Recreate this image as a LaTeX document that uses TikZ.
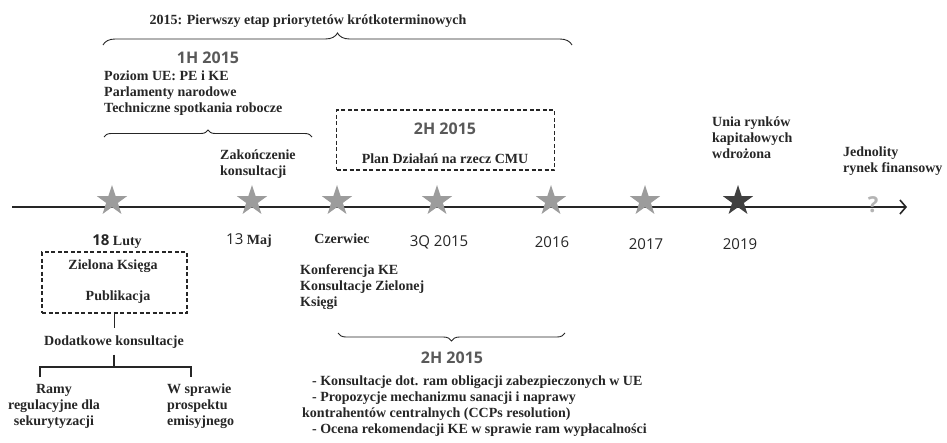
\documentclass[tikz,border=0pt]{standalone}
\usepackage{fontspec}
\setmainfont{Liberation Serif}
\newfontfamily\sansfont{Open Sans}
\usetikzlibrary{shapes.geometric,decorations.pathreplacing,arrows.meta}
\definecolor{inkgray}{HTML}{262626}
\definecolor{hdrgray}{HTML}{595959}
\definecolor{stargray}{HTML}{9C9C9C}
\definecolor{stardark}{HTML}{404040}
\definecolor{qgray}{HTML}{B4B4B4}
\tikzset{
  txt/.style={font=\bfseries\fontsize{14}{16}\selectfont, text=inkgray, inner sep=0pt, align=left},
  hdr/.style={font=\sansfont\bfseries\fontsize{16}{18}\selectfont, text=hdrgray, inner sep=0pt},
  yr/.style={font=\sansfont\fontsize{15}{18}\selectfont, text=inkgray, inner sep=0pt},
  evstar/.style={star, star points=5, star point ratio=2.6, minimum size=32pt, inner sep=0pt, fill=stargray, draw=none},
  dbox/.style={draw=inkgray, line width=1.3pt, dash pattern=on 4pt off 2.5pt, inner sep=0pt},
  brc/.style={draw=inkgray, line width=0.9pt, decorate, decoration={brace, amplitude=#1}},
  brcm/.style={draw=inkgray, line width=0.9pt, decorate, decoration={brace, mirror, amplitude=#1}},
  tree/.style={draw=inkgray, line width=1.6pt}
}

\begin{document}
\begin{tikzpicture}[x=1pt,y=-1pt]
			\useasboundingbox (0,0) rectangle (947,442);
			%%%%% START %%%%%
			
			% first stage, above the axis
			\node[txt] (title) at (308,21) {2015: Pierwszy etap priorytetów krótkoterminowych};
			\draw[brc=12] (103,45) -- (572,45);
			
			\node[hdr] (hOne) at (208,58) {1H 2015};
			\node[txt, anchor=north west] (euLvl) at (104,71) {Poziom UE: PE i KE\\Parlamenty narodowe\\Techniczne spotkania robocze};
			\draw[brc=7] (104,137) -- (312,137);
			\node[txt, anchor=west] (zakon) at (220,164) {Zakończenie\\konsultacji};
			
			\node[dbox, minimum width=218pt, minimum height=60pt] (planBox) at (445.5,140) {};
			\node[hdr] (hTwo) at (445,129) {2H 2015};
			\node[txt] (plan) at (445,159) {Plan Działań na rzecz CMU};
			
			\node[txt, anchor=west] (unia) at (712,138) {Unia rynków\\kapitałowych\\wdrożona};
			\node[txt, anchor=west] (jedn) at (843,161) {Jednolity\\rynek finansowy};
			
			% the axis
			\coordinate (axS) at (12,207);
			\coordinate (axE) at (907,207);
			\draw[line width=1.8pt, draw=inkgray, -{Straight Barb[length=6pt,width=14pt,line width=1.6pt]}] (axS) -- (axE);
			
			\foreach \x/\n in {112/feb,252/may,337/jun,437/qtr,551/ySix,645/ySev}
				\node[evstar] (s\n) at (\x,201) {};
			\node[evstar, fill=stardark] (sNin) at (738,201) {};
			\node[font=\sansfont\bfseries\fontsize{22}{22}\selectfont, text=qgray, inner sep=0pt] (sQ) at (873,205) {?};
			
			% dates below the axis
			\node[txt] (lFeb) at (117,242) {{\sansfont\fontsize{15}{18}\selectfont 18} Luty};
			\node[txt] (lMay) at (249,241) {{\sansfont\mdseries\fontsize{15}{18}\selectfont 13} Maj};
			\node[txt] (lJun) at (342,239) {Czerwiec};
			\node[yr] (lQtr) at (439,242) {3Q 2015};
			\node[yr] (lSix) at (552,242) {2016};
			\node[yr] (lSev) at (646,244) {2017};
			\node[yr] (lNin) at (740,244) {2019};
			
			% green paper and its branches
			\node[dbox, minimum width=145pt, minimum height=61pt] (zkBox) at (114.5,282.5) {};
			\node[txt] (zk) at (113,266) {Zielona Księga};
			\node[txt] (pub) at (118,297) {Publikacja};
			\node[txt] (dod) at (114,342) {Dodatkowe konsultacje};
			\draw[tree, shorten >=7pt] (zkBox.south) -- (zkBox.south |- dod.north);
			
			\coordinate (split) at (114,367);
			\coordinate (dropL) at (40,377);
			\coordinate (dropR) at (191,377);
			\draw[tree, shorten <=6pt] (dod.south) -- (split);
			\draw[tree] (dropL) |- (split) -| (dropR);
			
			\node[txt, align=center] (ramy) at (54,406) {Ramy\\regulacyjne dla\\sekurytyzacji};
			\node[txt, anchor=west] (wspr) at (167,406) {W sprawie\\prospektu\\emisyjnego};
			
			% second half of 2015
			\node[txt, anchor=west] (konf) at (300,287) {Konferencja KE\\Konsultacje Zielonej\\Księgi};
			\draw[brcm=8] (338,333) -- (565,333);
			\node[hdr] (hThr) at (452,358) {2H 2015};
			\node[txt, anchor=north west] (todo) at (302,376) {\hspace*{10pt}- Konsultacje dot. ram obligacji zabezpieczonych w UE\\\hspace*{10pt}- Propozycje mechanizmu sanacji i naprawy\\kontrahentów centralnych (CCPs resolution)\\\hspace*{10pt}- Ocena rekomendacji KE w sprawie ram wypłacalności};
			
			%%%%% END %%%%%
\end{tikzpicture}
\end{document}
